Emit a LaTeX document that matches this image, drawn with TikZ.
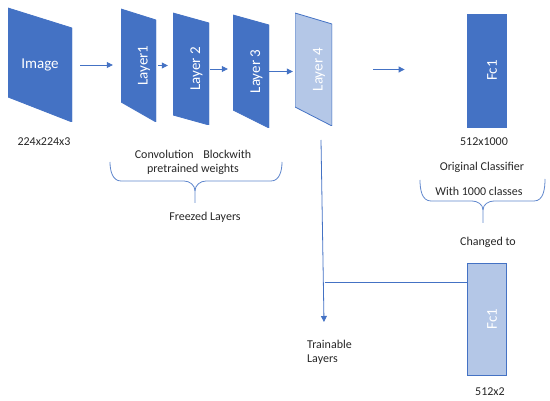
\documentclass[tikz,border=0pt]{standalone}
\usepackage{fontspec}
\setmainfont{Carlito}
\usetikzlibrary{arrows.meta,positioning}
\definecolor{dkblue}{HTML}{4472C4}
\definecolor{ltblue}{HTML}{B4C7E7}
\definecolor{txt}{HTML}{262626}
\newcommand{\vtxt}[1]{\hspace*{11pt}\rotatebox{90}{#1}}

\begin{document}
\begin{tikzpicture}[x=1pt, y=-1pt,
  lbl/.style={font=\fontsize{12}{14}\selectfont, text=txt, align=center, inner sep=0pt},
  dk/.style={fill=dkblue, draw=dkblue},
  lt/.style={fill=ltblue, draw=dkblue},
  para/.style n args={3}{inner sep=0pt, text=white, font=\fontsize{15}{15}\selectfont,
    path picture={\filldraw[#1, line width=0.8pt]
      (path picture bounding box.north west)
      -- ([yshift=-#2pt]path picture bounding box.north east)
      -- (path picture bounding box.south east)
      -- ([yshift=#3pt]path picture bounding box.south west) -- cycle;}},
  fc/.style={draw=dkblue, line width=0.8pt, inner sep=0pt, text=white,
    font=\fontsize{15}{15}\selectfont, minimum width=39pt},
  arr/.style={draw=dkblue, line width=0.8pt, -{Triangle[length=6pt,width=6pt]}},
  ln/.style={draw=dkblue, line width=0.8pt},
  brc/.style={draw=dkblue!85, line width=0.8pt}]
\useasboundingbox (0,0) rectangle (550,401);
% feature extractor
\node[para={dk}{20}{25}, minimum width=64pt, minimum height=114pt] (img) at (40,65) {Image};
\node[para={dk}{11}{20}, minimum width=35pt, minimum height=113pt] (l1) at (138.5,65.5) {\vtxt{Layer1}};
\node[para={dk}{10}{10}, minimum width=36pt, minimum height=112pt] (l2) at (191,69) {\vtxt{Layer 2}};
\node[para={dk}{10}{18}, minimum width=36pt, minimum height=113pt] (l3) at (251,71.5) {\vtxt{Layer 3}};
\node[para={lt}{11}{19}, minimum width=37pt, minimum height=113pt] (l4) at (313.5,69.5) {\vtxt{Layer 4}};
% classifiers
\node[fc, fill=dkblue, minimum height=113pt] (fc1) at (486.5,70.5) {\vtxt{Fc1}};
\node[fc, fill=ltblue, minimum height=112pt] (fc2) at (486.5,319) {\vtxt{Fc1}};

\draw[arr, shorten <=8pt, shorten >=8pt] (img.east) -- (img.east -| l1.west);
\draw[arr, shorten <=2pt, shorten >=5pt] (l1.east) -- (l1.east -| l2.west);
\draw[arr, shorten <=1pt, shorten >=5pt] (l2.east) -- (l2.east -| l3.west);
\draw[arr, shorten >=2pt] (l3.east) -- (l3.east -| l4.west);
\draw[arr, shorten <=41pt, shorten >=62pt] (l4.east) -- (l4.east -| fc1.west);

% labels
\node[lbl] (imgsz) at (44,142) {224x224x3};
\node[lbl] (conv) at (193,162) {Convolution\hspace{7pt} Blockwith\\pretrained weights};
\node[lbl] (frz) at (205,217) {Freezed Layers};
\node[lbl] (fcsz) at (484,142) {512x1000};
\node[lbl] (orig) at (482,167) {Original Classifier};
\node[lbl] (cls) at (479,191) {With 1000 classes};
\node[lbl] (chg) at (488,242) {Changed to};
\node[lbl, align=left, anchor=north west] (trn) at (307,340) {Trainable\\Layers};
\node[lbl] (fc2sz) at (490,392) {512x2};

% braces
\draw[brc] (110,162) to[out=-90,in=180] (121,181) -- (184,181) to[out=0,in=90] (195,191) -- (195,203);
\draw[brc] (282,162) to[out=-90,in=0] (271,181) -- (206,181) to[out=180,in=90] (195,191);
\draw[brc] (420,180) to[out=-90,in=180] (431,201) -- (472,201) to[out=0,in=90] (483,210) -- (483,223);
\draw[brc] (545,179) to[out=-90,in=0] (534,201) -- (494,201) to[out=180,in=90] (483,210);

% trainable branch
\coordinate (tdn) at (321,140);
\coordinate (ttip) at (324,322);
\draw[arr] (tdn) -- (ttip);
\coordinate (jn) at (324.5,282);
\draw[ln] (jn) -- (jn -| fc2.west);
\end{tikzpicture}
\end{document}
